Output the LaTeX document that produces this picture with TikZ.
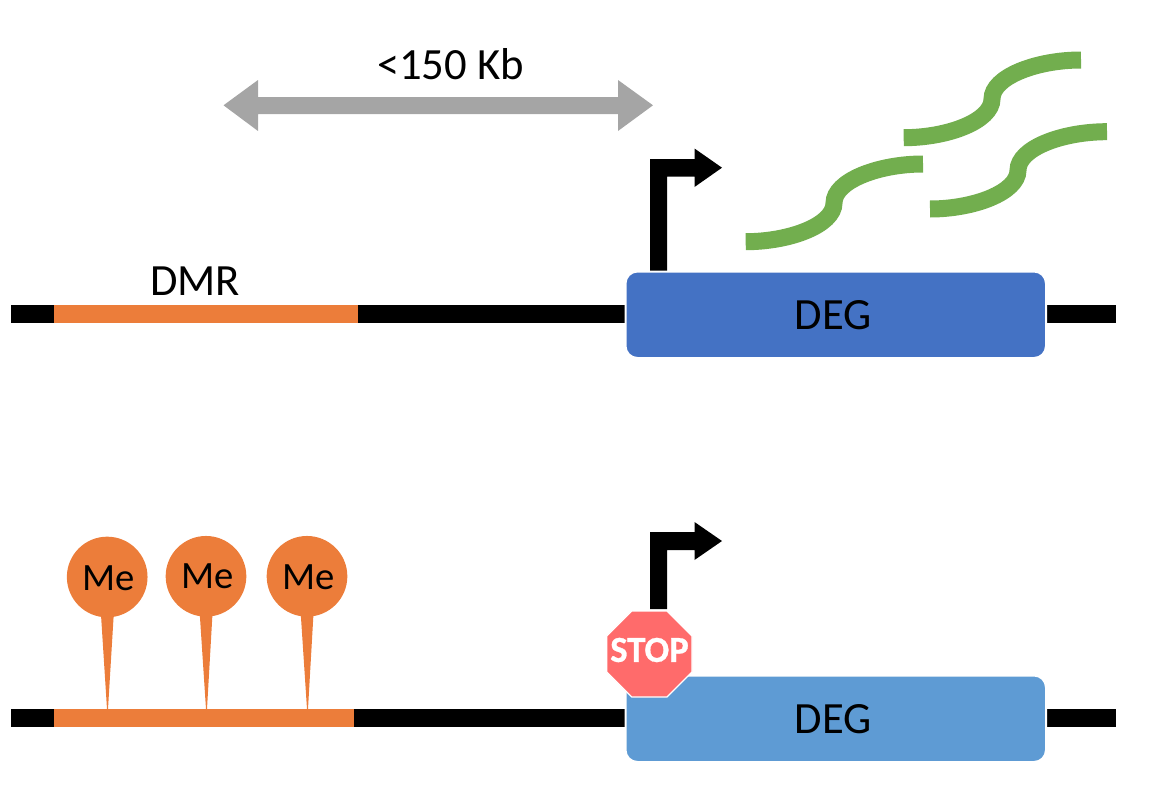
\documentclass[tikz,border=0pt]{standalone}
\usepackage{fontspec}
\setmainfont{Carlito}
\newfontfamily\stopfont[BoldFeatures={FakeBold=0.8}]{Carlito}
\definecolor{dmrorange}{HTML}{EC7D3A}
\definecolor{degblue}{HTML}{4472C4}
\definecolor{deglight}{HTML}{5E9BD4}
\definecolor{rnagreen}{HTML}{72AE4E}
\definecolor{spangray}{HTML}{A5A5A5}
\definecolor{stopred}{HTML}{FF6B6B}
\tikzset{
  dnaline/.style={fill=black,draw=none},
  dmrbar/.style={fill=dmrorange,draw=none},
  degbox/.style={draw=white,line width=1.5pt,rounded corners=9pt},
  rnastrand/.style={draw=rnagreen,line width=12.75pt},
  tsspath/.style={fill=black,draw=none},
  labeltext/.style={inner sep=0.75pt,font=\fontsize{33.5}{40}\selectfont},
  metext/.style={inner sep=0.75pt,font=\fontsize{29}{35}\selectfont},
  mecircle/.style={circle,fill=dmrorange,draw=none,minimum size=60.5pt,inner sep=0pt},
}
\begin{document}
\begin{tikzpicture}[x=0.75pt,y=0.75pt,yscale=-1,xscale=1]
\useasboundingbox (0,0) rectangle (1150,796);

% top strand
\fill [dnaline] (11,305) rectangle (1116,323);
\fill [dmrbar] (54,305) rectangle (358,323);
\draw [degbox,fill=degblue] (625.5,271.5) rectangle (1046,358);
\node (degtop) [labeltext] at (833,315) {DEG};
\node (dmr) [labeltext] at (195,281) {DMR};

% span arrow
\fill [spangray] (223.5,105.3) -- (258,80) -- (258,97) -- (618,97) -- (618,80) -- (653,105.3) -- (618,131) -- (618,114) -- (258,114) -- (258,131) -- cycle;
\node (span) [labeltext] at (450.5,64.5) {<150 Kb};

% tss arrows
\fill [tsspath] (650,270.5) -- (650,159) -- (694.5,159) -- (694.5,148.5) -- (722,167.7) -- (694.5,187) -- (694.5,176.5) -- (667,176.5) -- (667,270.5) -- cycle;
\fill [tsspath] (650,609) -- (650,532) -- (694.5,532) -- (694.5,522) -- (722,541) -- (694.5,560) -- (694.5,550) -- (667,550) -- (667,609) -- cycle;

% transcripts
\draw [rnastrand] (745.7,241.7) .. controls (790,241.7) and (834,225) .. (834,203) .. controls (834,181) and (878,164) .. (923,164);
\draw [rnastrand] (903.7,137.7) .. controls (948,137.7) and (992,121) .. (992,99) .. controls (992,77) and (1036,60) .. (1081,60);
\draw [rnastrand] (930,209) .. controls (974,209) and (1018,192.3) .. (1018,170.3) .. controls (1018,148.3) and (1062,131.7) .. (1107,131.7);

% bottom strand
\fill [dnaline] (11,709) rectangle (1116,727);
\fill [dmrbar] (54,709) rectangle (354,727);
\draw [degbox,fill=deglight] (625.5,675.5) rectangle (1046,762);
\node (degbottom) [labeltext] at (833,719) {DEG};

% methyl pins
\fill [dmrorange] (100.7,610) -- (114,610) -- (108,709) -- (107,709) -- cycle;
\fill [dmrorange] (199.5,610) -- (212.7,610) -- (207,709) -- (206,709) -- cycle;
\fill [dmrorange] (300.5,610) -- (313.7,610) -- (308,709) -- (307,709) -- cycle;
\node (mea) [mecircle] at (107.2,577) {};
\node (meb) [mecircle] at (206,576.3) {};
\node (mec) [mecircle] at (307,576.3) {};
\node (mealabel) [metext] at (109,578) {Me};
\node (meblabel) [metext] at (208,576) {Me};
\node (meclabel) [metext] at (309,577) {Me};

% stop sign
\draw [fill=stopred,draw=white,line width=1pt] (631.7,611) -- (667,611) -- (692,636) -- (692,672) -- (667,697) -- (631.7,697) -- (606.7,672) -- (606.7,636) -- cycle;
\node (stop) [inner sep=0.75pt,text=white,font=\fontsize{27.5}{33}\stopfont\bfseries] at (649.5,650) {STOP};

\end{tikzpicture}
\end{document}
